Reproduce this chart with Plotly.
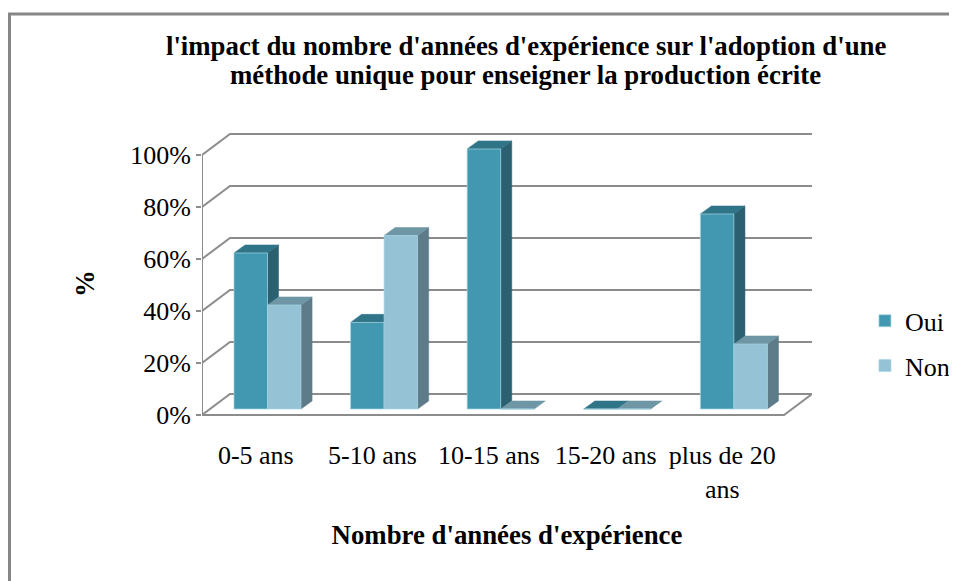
#!/usr/bin/env python3
"""Excel-style 3D column chart: years of experience vs single-method teaching."""
import plotly.graph_objects as go

CATEGORIES = [0, 1, 2, 3, 4]
CAT_LABELS = ["0-5 ans", "5-10 ans", "10-15 ans", "15-20 ans", "plus de 20<br>ans"]
OUI = [60, 33.3, 100, 0, 75]
NON = [40, 66.7, 0, 0, 25]
Y_TICKS = [0, 20, 40, 60, 80, 100]
Y_LABELS = ["0%", "20%", "40%", "60%", "80%", "100%"]
TITLE_1 = "l'impact du nombre d'années d'expérience sur l'adoption d'une"
TITLE_2 = "méthode unique pour enseigner la production écrite"

FONT = "Liberation Serif"
GRID = "#8c8c8c"
EDGE = "#a8d6e2"
OUI_FRONT, OUI_TOP, OUI_SIDE = "#4198b0", "#2f7487", "#2a6070"
NON_FRONT, NON_TOP, NON_SIDE = "#95c3d5", "#6e96a4", "#5d7b88"

# pseudo-3D geometry, in axis units
BAR_W = 0.2875          # one column, category units
DEPTH_X, DEPTH_Y = 0.095, 3.1    # depth of a column
WALL_X, WALL_Y = 0.24, 8.07      # depth of the floor/walls
FRONT_Y = -2.3          # where the front plane sits relative to the columns
X_MIN, X_MAX = -0.5617, 4.67
Y_MIN, Y_MAX = -10.77, 107.3
FLOOR_RIGHT = X_MAX - WALL_X

fig = go.Figure()


def line(xs, ys, width=2):
    fig.add_trace(go.Scatter(x=xs, y=ys, mode="lines", showlegend=False, hoverinfo="skip",
                             cliponaxis=False, line=dict(color=GRID, width=width)))


def face(xs, ys, color):
    fig.add_trace(go.Scatter(x=xs, y=ys, mode="lines", fill="toself", fillcolor=color,
                             showlegend=False, hoverinfo="skip", cliponaxis=False,
                             line=dict(color=color, width=0.5)))


# walls and gridlines
for v in Y_TICKS:
    fy = v + FRONT_Y
    line([X_MIN, X_MIN + WALL_X, X_MAX], [fy, fy + WALL_Y, fy + WALL_Y])
line([X_MIN, X_MIN], [FRONT_Y, 100 + FRONT_Y])
line([X_MIN, FLOOR_RIGHT, X_MAX], [FRONT_Y, FRONT_Y, FRONT_Y + WALL_Y])

# depth faces of the columns, below the overlaid fronts
for values, x_off, top_c, side_c in ((OUI, -BAR_W, OUI_TOP, OUI_SIDE), (NON, 0, NON_TOP, NON_SIDE)):
    for i, v in zip(CATEGORIES, values):
        x0, x1 = i + x_off, i + x_off + BAR_W
        if v > 0:
            face([x1, x1 + DEPTH_X, x1 + DEPTH_X, x1, x1],
                 [0, DEPTH_Y, v + DEPTH_Y, v, 0], side_c)
        face([x0, x1, x1 + DEPTH_X, x0 + DEPTH_X, x0],
             [v, v, v + DEPTH_Y, v + DEPTH_Y, v], top_c)

fig.add_trace(go.Bar(x=CATEGORIES, y=OUI, name="Oui", xaxis="x2", yaxis="y2", legendgroup="oui",
                     marker=dict(color=OUI_FRONT, line=dict(color=EDGE, width=0.7))))
fig.add_trace(go.Bar(x=CATEGORIES, y=NON, name="Non", xaxis="x2", yaxis="y2", legendgroup="non",
                     marker=dict(color=NON_FRONT, line=dict(color=EDGE, width=0.7))))

# the page adds an 8px body margin, so the figure is laid out 8px up and left
fig.update_layout(
    width=949, height=573, autosize=False,
    margin=dict(l=194, r=145, t=122, b=144),
    paper_bgcolor="white", plot_bgcolor="white",
    font=dict(family=FONT, color="black", size=26),
    barmode="group", bargap=1 - 2 * BAR_W, bargroupgap=0,
    title=dict(text=TITLE_1, font=dict(family=FONT, size=26.8, color="black", weight="bold"),
               x=0.546, xanchor="center", y=0.934, yanchor="middle"),
    annotations=[dict(text="<b>" + TITLE_2 + "</b>", xref="paper", yref="paper",
                      x=0.531, y=1.18, xanchor="center", yanchor="middle", showarrow=False,
                      font=dict(family=FONT, size=26.8, color="black"))],
    xaxis=dict(range=[X_MIN, X_MAX], tickmode="array",
               tickvals=[i - 0.1 for i in CATEGORIES], ticktext=CAT_LABELS,
               showgrid=False, zeroline=False, showline=False, ticks="", tickangle=0,
               title=dict(text="<b>Nombre d'années d'expérience</b>", standoff=22,
                          font=dict(family=FONT, size=26.8))),
    yaxis=dict(range=[Y_MIN, Y_MAX], tickmode="array",
               tickvals=[v + FRONT_Y for v in Y_TICKS], ticktext=Y_LABELS,
               showgrid=False, zeroline=False, showline=False,
               ticks="outside", ticklen=5, tickwidth=2, tickcolor=GRID,
               title=dict(text="<b>%</b>", standoff=27, font=dict(family=FONT, size=26.8))),
    xaxis2=dict(range=[X_MIN, X_MAX], overlaying="x", visible=False),
    yaxis2=dict(range=[Y_MIN, Y_MAX], overlaying="y", visible=False),
    legend=dict(xref="container", yref="container", x=0.903, y=0.495, xanchor="left", yanchor="top",
                tracegroupgap=8, font=dict(family=FONT, size=26),
                bgcolor="rgba(0,0,0,0)"),
    # chart frame: only its top and left edges show in the picture
    shapes=[dict(type="path", xref="paper", yref="paper", layer="below",
                 path="M -0.3156,-0.47 L -0.3156,1.378 L 1.3,1.378",
                 line=dict(color="#868686", width=3))],
)
fig.write_html("out.html")
